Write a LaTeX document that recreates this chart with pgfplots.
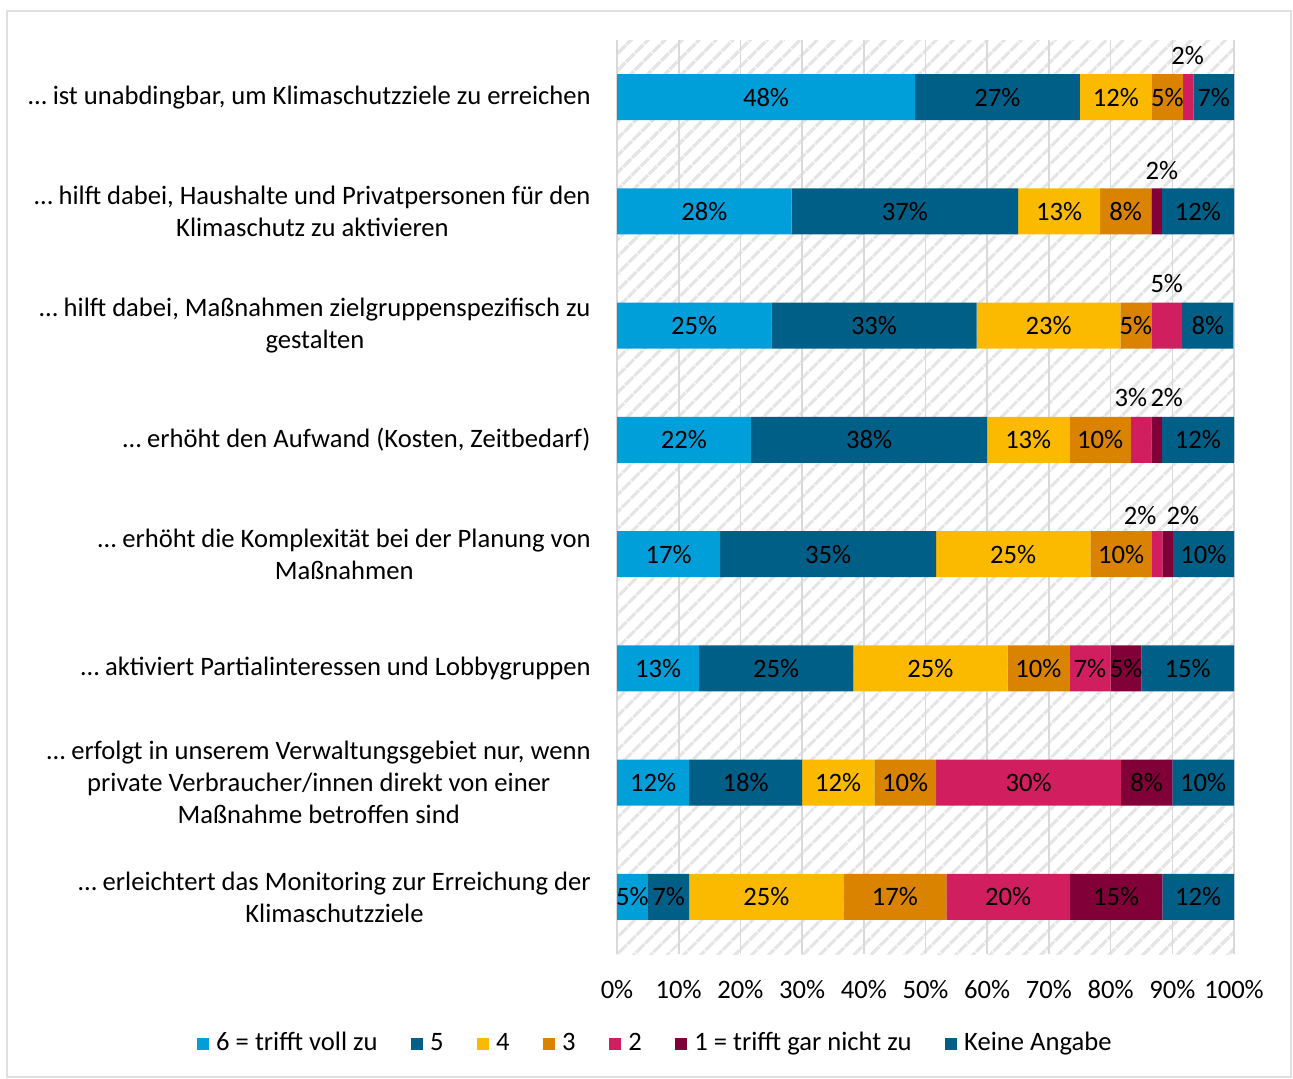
\documentclass[border=0pt]{standalone}
\usepackage{fontspec}
\setmainfont{Carlito}
\usepackage{pgfplots}
\pgfplotsset{compat=1.18}
\usetikzlibrary{patterns.meta}
\definecolor{c6}{RGB}{0,159,218}
\definecolor{c5}{RGB}{0,95,135}
\definecolor{c4}{RGB}{251,186,0}
\definecolor{c3}{RGB}{217,131,0}
\definecolor{c2}{RGB}{208,30,94}
\definecolor{c1}{RGB}{128,0,55}
\definecolor{ck}{RGB}{0,95,135}

\begin{document}
\fontsize{13.3pt}{16pt}\selectfont
\begin{tikzpicture}
\useasboundingbox (0,0) rectangle (646.5pt,-539.5pt);
\draw[black!12, line width=1pt] (3.5pt,-5.5pt) rectangle (645.5pt,-538.5pt);
\begin{axis}[
  at={(308.5pt,-20pt)}, anchor=north west,
  scale only axis, width=308.5pt, height=457pt,
  xbar stacked, bar width=23pt,
  xmin=0, xmax=100, ymin=-0.5, ymax=7.5, y dir=reverse,
  axis line style={draw=none},
  major tick length=0pt,
  xtick={0,10,...,100},
  xticklabels={0\%,10\%,20\%,30\%,40\%,50\%,60\%,70\%,80\%,90\%,100\%},
  xticklabel style={inner sep=0pt, yshift=-13pt},
  ytick={0,...,7},
  yticklabels={
    {… ist unabdingbar, um Klimaschutzziele zu erreichen},
    {… hilft dabei, Haushalte und Privatpersonen für den\\Klimaschutz zu aktivieren},
    {… hilft dabei, Maßnahmen zielgruppenspezifisch zu\\gestalten},
    {… erhöht den Aufwand (Kosten, Zeitbedarf)},
    {… erhöht die Komplexität bei der Planung von\\Maßnahmen},
    {… aktiviert Partialinteressen und Lobbygruppen},
    {… erfolgt in unserem Verwaltungsgebiet nur, wenn\\private Verbraucher/innen direkt von einer\\Maßnahme betroffen sind},
    {… erleichtert das Monitoring zur Erreichung der\\Klimaschutzziele}},
  yticklabel style={align=center, anchor=east, inner sep=0pt, xshift=-13pt},
  xmajorgrids, grid style={black!15, line width=0.8pt},
  axis background/.style={pattern={Lines[angle=45,distance=6.5pt,line width=1.8pt]}, pattern color=black!10},
  point meta=explicit symbolic,
  nodes near coords,
  every node near coord/.append style={anchor=center, inner sep=0pt, text=black},
  legend columns=-1,
  legend style={at={(0.063,-0.098)}, anchor=center, draw=none, fill=none,
    /tikz/every odd column/.append style={column sep=2pt},
    /tikz/every even column/.append style={column sep=15.3pt},
    nodes={inner sep=1.5pt}},
  legend image code/.code={\fill[#1] (0pt,-3pt) rectangle (6pt,3pt);},
]
\addplot[fill=c6, draw=none] coordinates {
  (48.3,0) [48\%] (28.3,1) [28\%] (25,2) [25\%] (21.7,3) [22\%]
  (16.7,4) [17\%] (13.3,5) [13\%] (11.7,6) [12\%] (5,7) [5\%]};
\addplot[fill=c5, draw=none] coordinates {
  (26.7,0) [27\%] (36.7,1) [37\%] (33.3,2) [33\%] (38.3,3) [38\%]
  (35,4) [35\%] (25,5) [25\%] (18.3,6) [18\%] (6.7,7) [7\%]};
\addplot[fill=c4, draw=none] coordinates {
  (11.7,0) [12\%] (13.3,1) [13\%] (23.3,2) [23\%] (13.3,3) [13\%]
  (25,4) [25\%] (25,5) [25\%] (11.7,6) [12\%] (25,7) [25\%]};
\addplot[fill=c3, draw=none] coordinates {
  (5,0) [5\%] (8.3,1) [8\%] (5,2) [5\%] (10,3) [10\%]
  (10,4) [10\%] (10,5) [10\%] (10,6) [10\%] (16.7,7) [17\%]};
\addplot[fill=c2, draw=none] coordinates {
  (1.7,0) [] (0,1) [] (5,2) [] (3.3,3) []
  (1.7,4) [] (6.7,5) [7\%] (30,6) [30\%] (20,7) [20\%]};
\addplot[fill=c1, draw=none] coordinates {
  (0,0) [] (1.7,1) [] (0,2) [] (1.7,3) []
  (1.7,4) [] (5,5) [5\%] (8.3,6) [8\%] (15,7) [15\%]};
\addplot[fill=ck, draw=none] coordinates {
  (6.6,0) [7\%] (11.7,1) [12\%] (8.3,2) [8\%] (11.7,3) [12\%]
  (9.9,4) [10\%] (15,5) [15\%] (10,6) [10\%] (11.6,7) [12\%]};
\legend{6 = trifft voll zu, 5, 4, 3, 2, 1 = trifft gar nicht zu, Keine Angabe}
% labels of the small segments, set above the bars
\node at (axis cs:92.5,-0.36) {2\%};
\node at (axis cs:88.3,0.64) {2\%};
\node at (axis cs:89.1,1.63) {5\%};
\node at (axis cs:83.3,2.63) {3\%};
\node at (axis cs:89.1,2.63) {2\%};
\node at (axis cs:84.8,3.66) {2\%};
\node at (axis cs:91.7,3.66) {2\%};
\end{axis}
\end{tikzpicture}
\end{document}
